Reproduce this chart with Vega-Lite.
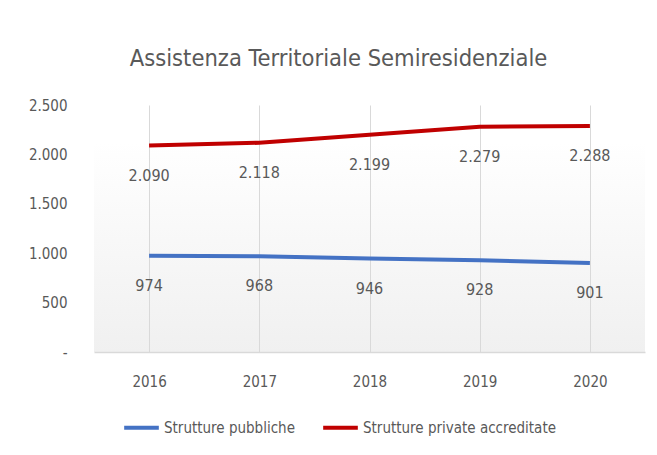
{
  "$schema": "https://vega.github.io/schema/vega-lite/v6.json",
  "width": 551,
  "height": 247,
  "autosize": {"type": "none"},
  "padding": {"left": 94, "top": 105, "right": 12, "bottom": 103},
  "background": "white",
  "title": {
    "text": "Assistenza Territoriale Semiresidenziale",
    "font": "DejaVu Sans Condensed, Liberation Sans, sans-serif",
    "fontSize": 23.5,
    "fontWeight": "normal",
    "color": "#595959",
    "anchor": "middle",
    "offset": 28,
    "dx": -31
  },
  "data": {
    "values": [
      {"anno": "2016", "serie": "Strutture pubbliche", "valore": 974},
      {"anno": "2017", "serie": "Strutture pubbliche", "valore": 968},
      {"anno": "2018", "serie": "Strutture pubbliche", "valore": 946},
      {"anno": "2019", "serie": "Strutture pubbliche", "valore": 928},
      {"anno": "2020", "serie": "Strutture pubbliche", "valore": 901},
      {"anno": "2016", "serie": "Strutture private accreditate", "valore": 2090},
      {"anno": "2017", "serie": "Strutture private accreditate", "valore": 2118},
      {"anno": "2018", "serie": "Strutture private accreditate", "valore": 2199},
      {"anno": "2019", "serie": "Strutture private accreditate", "valore": 2279},
      {"anno": "2020", "serie": "Strutture private accreditate", "valore": 2288}
    ]
  },
  "encoding": {
    "x": {
      "field": "anno",
      "type": "ordinal",
      "scale": {"type": "point", "padding": 0.5},
      "axis": {
        "title": null,
        "labelAngle": 0,
        "grid": true,
        "gridColor": "#d9d9d9",
        "domainColor": "#d9d9d9",
        "domainWidth": 1.5,
        "ticks": false,
        "labelPadding": 22,
        "labelFont": "DejaVu Sans Condensed, Liberation Sans, sans-serif",
        "labelFontSize": 15,
        "labelColor": "#595959"
      }
    },
    "y": {
      "field": "valore",
      "type": "quantitative",
      "scale": {"domain": [0, 2500]},
      "axis": {
        "title": null,
        "values": [0, 500, 1000, 1500, 2000, 2500],
        "format": ",d",
        "labelExpr": "datum.value == 0 ? '-' : datum.label",
        "grid": false,
        "domain": false,
        "ticks": false,
        "labelPadding": 27,
        "labelFont": "DejaVu Sans Condensed, Liberation Sans, sans-serif",
        "labelFontSize": 15,
        "labelColor": "#595959"
      }
    }
  },
  "layer": [
    {
      "mark": {"type": "line", "strokeWidth": 4, "strokeCap": "butt"},
      "encoding": {
        "color": {
          "field": "serie",
          "type": "nominal",
          "scale": {
            "domain": ["Strutture pubbliche", "Strutture private accreditate"],
            "range": ["#4472C4", "#C00000"]
          },
          "legend": {
            "title": null,
            "orient": "none",
            "legendX": 28,
            "legendY": 303,
            "direction": "horizontal",
            "symbolType": "stroke",
            "symbolStrokeWidth": 4,
            "symbolSize": 1200,
            "labelFont": "DejaVu Sans Condensed, Liberation Sans, sans-serif",
            "labelFontSize": 15,
            "labelColor": "#595959",
            "labelLimit": 400,
            "columnPadding": 20,
            "labelOffset": 3
          }
        }
      }
    },
    {
      "mark": {
        "type": "text",
        "dy": 30,
        "font": "DejaVu Sans Condensed, Liberation Sans, sans-serif",
        "fontSize": 16,
        "color": "#595959"
      },
      "encoding": {
        "text": {"field": "valore", "type": "quantitative", "format": ",d"}
      }
    }
  ],
  "config": {
    "locale": {
      "number": {"decimal": ",", "thousands": ".", "grouping": [3], "currency": ["€", ""]}
    },
    "view": {
      "stroke": null,
      "fill": {
        "gradient": "linear",
        "x1": 0, "y1": 0, "x2": 0, "y2": 1,
        "stops": [
          {"offset": 0, "color": "#ffffff"},
          {"offset": 0.15, "color": "#ffffff"},
          {"offset": 1, "color": "#f0f0f0"}
        ]
      }
    }
  }
}
